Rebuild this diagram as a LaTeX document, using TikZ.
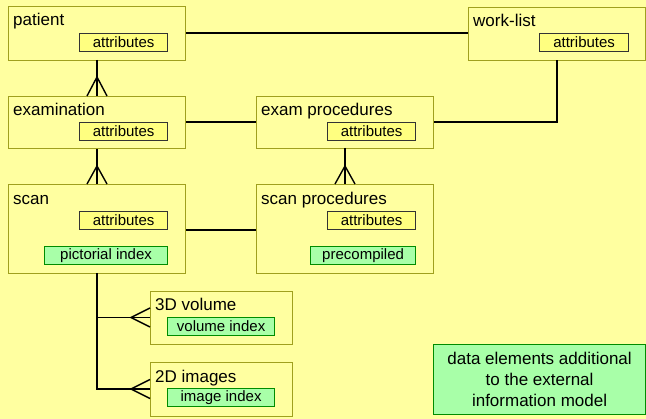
\documentclass[tikz,border=0pt]{standalone}
\usepackage{fontspec}
\setmainfont{Liberation Sans}
\usetikzlibrary{calc}
\definecolor{bgc}{RGB}{255,255,160}
\definecolor{olive}{RGB}{160,160,30}
\definecolor{attrfill}{RGB}{255,255,128}
\definecolor{greenfill}{RGB}{168,255,168}
\definecolor{greenline}{RGB}{0,140,0}
\tikzset{
  entity/.style={draw=olive, line width=1.3pt, fill=bgc, inner sep=0pt, anchor=north west},
  title/.style={anchor=base west, inner sep=0pt, font=\fontsize{17}{20}\selectfont},
  attr/.style={draw=black!80, line width=1.2pt, fill=attrfill, inner sep=0pt, anchor=north west, font=\fontsize{15}{18}\selectfont},
  extra/.style={draw=greenline, line width=1.2pt, fill=greenfill, inner sep=0pt, anchor=north west, font=\fontsize{15}{18}\selectfont},
  link/.style={draw=black, line width=1.4pt},
}
\begin{document}
\begin{tikzpicture}[x=1pt,y=-1pt]
\fill[bgc] (0,0) rectangle (646,419);
\useasboundingbox (0,0) rectangle (646,419);
% entities
\node[entity, minimum width=177pt, minimum height=54pt] (patient) at (8,6) {};
\node[title] (patientT) at (13,26) {patient};
\node[attr, minimum width=88pt, minimum height=18pt] (patientA) at (79,33) {attributes};

\node[entity, minimum width=177pt, minimum height=53pt] (worklist) at (468,7) {};
\node[title] (worklistT) at (473,27) {work-list};
\node[attr, minimum width=89pt, minimum height=18pt] (worklistA) at (539,33) {attributes};

\node[entity, minimum width=177pt, minimum height=52pt] (exam) at (8,96) {};
\node[title] (examT) at (13,116) {examination};
\node[attr, minimum width=88pt, minimum height=18pt] (examA) at (79,122) {attributes};

\node[entity, minimum width=177pt, minimum height=52pt] (examproc) at (256,96) {};
\node[title] (examprocT) at (261,116) {exam procedures};
\node[attr, minimum width=88pt, minimum height=18pt] (examprocA) at (327,122) {attributes};

\node[entity, minimum width=177pt, minimum height=89pt] (scan) at (8,184) {};
\node[title] (scanT) at (13,205) {scan};
\node[attr, minimum width=88pt, minimum height=18pt] (scanA) at (79,211) {attributes};
\node[extra, minimum width=123pt, minimum height=18pt] (scanP) at (44,246) {pictorial index};

\node[entity, minimum width=177pt, minimum height=89pt] (scanproc) at (256,184) {};
\node[title] (scanprocT) at (261,205) {scan procedures};
\node[attr, minimum width=88pt, minimum height=18pt] (scanprocA) at (327,211) {attributes};
\node[extra, minimum width=105pt, minimum height=18pt] (scanprocP) at (310,246) {precompiled};

\node[entity, minimum width=142pt, minimum height=53pt] (vol) at (150,291) {};
\node[title] (volT) at (155,311) {3D volume};
\node[extra, minimum width=107pt, minimum height=18pt] (volI) at (167,317) {volume index};

\node[entity, minimum width=142pt, minimum height=54pt] (img) at (150,362) {};
\node[title] (imgT) at (155,383) {2D images};
\node[extra, minimum width=107pt, minimum height=18pt] (imgI) at (167,388) {image index};

\node[extra, minimum width=212pt, minimum height=70pt, align=center, font=\fontsize{17}{21}\selectfont] (legend) at (433,344) {data elements additional\\to the external\\information model};

% connectors
\draw[link] (patient.east |- patientA.north) -- (worklist.west |- patientA.north);
\draw[link] (exam.east |- examA.north) -- (examproc.west |- examA.north);
\draw[link] (scan.east |- scanA.south) -- (scanproc.west |- scanA.south);
\coordinate (wl) at (557,60);
\draw[link] (examproc.east |- examprocA.north) -| (wl);

% patient -> examination (crow's foot)
\coordinate (pe) at (97,60);
\draw[link] (pe) -- (pe |- exam.north);
\draw[link] ($(pe |- exam.north)+(-10,0)$) -- ($(pe |- exam.north)+(0,-19)$) -- ($(pe |- exam.north)+(10,0)$);
% examination -> scan
\draw[link] (pe |- exam.south) -- (pe |- scan.north);
\draw[link] ($(pe |- scan.north)+(-10,0)$) -- ($(pe |- scan.north)+(0,-18)$) -- ($(pe |- scan.north)+(10,0)$);
% exam procedures -> scan procedures
\coordinate (ep) at (345,148);
\draw[link] (ep) -- (ep |- scanproc.north);
\draw[link] ($(ep |- scanproc.north)+(-10,0)$) -- ($(ep |- scanproc.north)+(0,-18)$) -- ($(ep |- scanproc.north)+(10,0)$);
% scan -> 3D volume, 2D images
\coordinate (sv) at (97,273);
\coordinate (vj) at (97,317.5);
\coordinate (ij) at (97,389);
\draw[link] (sv) -- (ij) -- (img.west |- ij);
\draw[link] (vj) -- (vol.west |- vj);
\draw[link] ($(vol.west |- vj)+(0,-9.5)$) -- ($(vol.west |- vj)+(-19,0)$) -- ($(vol.west |- vj)+(0,9.5)$);
\draw[link] ($(img.west |- ij)+(0,-9.5)$) -- ($(img.west |- ij)+(-19,0)$) -- ($(img.west |- ij)+(0,9.5)$);
\end{tikzpicture}
\end{document}
